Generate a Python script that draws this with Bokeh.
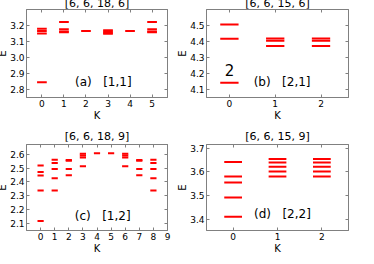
from bokeh.plotting import figure
from bokeh.layouts import column, row
from bokeh.models import (FixedTicker, LinearAxis, Label, Range1d,
                          NumeralTickFormatter, Title)
from bokeh.embed import file_html
from bokeh.resources import INLINE

# ---------------- data ----------------
a_title = "[6, 6, 18, 6]"
a_K = [0, 0, 0, 0, 1, 1, 1, 1, 2, 3, 3, 3, 3, 4, 5, 5, 5, 5]
a_E = [2.845, 3.150, 3.165, 3.180,
       3.158, 3.163, 3.176, 3.222,
       3.166,
       3.148, 3.155, 3.163, 3.170,
       3.166,
       3.158, 3.163, 3.176, 3.222]
a_xticks = [0, 1, 2, 3, 4, 5]
a_yticks = [2.8, 2.9, 3.0, 3.1, 3.2]
a_note = "(a)\u00a0\u00a0 [1,1]"

b_title = "[6, 6, 15, 6]"
b_K = [0, 0, 0, 1, 1, 1, 2, 2, 2]
b_E = [4.142, 4.417, 4.506,
       4.372, 4.405, 4.418,
       4.372, 4.405, 4.418]
b_xticks = [0, 1, 2]
b_yticks = [4.1, 4.2, 4.3, 4.4, 4.5]
b_note = "(b)\u00a0\u00a0 [2,1]"
b_mark = "2"

c_title = "[6, 6, 18, 9]"
c_K = [0, 0, 0, 0, 0,
       1, 1, 1, 1, 1,
       2, 2, 2, 2,
       3, 3, 3, 3,
       4,
       5,
       6, 6, 6, 6,
       7, 7, 7, 7,
       8, 8, 8, 8, 8]
c_E = [2.118, 2.338, 2.447, 2.472, 2.518,
       2.338, 2.426, 2.494, 2.536, 2.560,
       2.449, 2.494, 2.552, 2.558,
       2.513, 2.576, 2.590, 2.603,
       2.607,
       2.607,
       2.513, 2.576, 2.590, 2.603,
       2.449, 2.494, 2.552, 2.558,
       2.338, 2.426, 2.494, 2.536, 2.560]
c_xticks = [0, 1, 2, 3, 4, 5, 6, 7, 8, 9]
c_yticks = [2.1, 2.2, 2.3, 2.4, 2.5, 2.6]
c_note = "(c)\u00a0\u00a0 [1,2]"

d_title = "[6, 6, 15, 9]"
d_K = [0, 0, 0, 0, 0,
       1, 1, 1, 1, 1,
       2, 2, 2, 2, 2]
d_E = [3.413, 3.493, 3.556, 3.581, 3.642,
       3.581, 3.602, 3.622, 3.640, 3.654,
       3.581, 3.602, 3.622, 3.640, 3.654]
d_xticks = [0, 1, 2]
d_yticks = [3.4, 3.5, 3.6, 3.7]
d_note = "(d)\u00a0\u00a0 [2,2]"

x_label = "K"
y_label = "E"

# ---------------- styling ----------------
FONT = "DejaVu Sans"
RED = "#ff0000"
FRAME = "#808080"


def style_axis(ax, labels=True, label_standoff=0):
    ax.major_tick_in = 3
    ax.major_tick_out = 0
    ax.minor_tick_line_color = None
    ax.axis_line_color = FRAME
    ax.major_tick_line_color = FRAME
    if labels:
        ax.major_label_text_font = FONT
        ax.major_label_text_font_size = "9px"
        ax.major_label_text_color = "black"
        ax.major_label_standoff = 2
        ax.axis_label_text_font = FONT
        ax.axis_label_text_font_size = "10px"
        ax.axis_label_text_font_style = "normal"
        ax.axis_label_text_color = "black"
        ax.axis_label_standoff = label_standoff
    else:
        ax.major_label_text_font_size = "0px"
        ax.major_label_text_color = None
        ax.major_label_standoff = 0


def spacer_axis(n, at):
    # invisible axis that only reserves n pixels at the outer edge
    return LinearAxis(ticker=FixedTicker(ticks=[at]), major_tick_out=n,
                      major_tick_in=0, axis_line_color=None,
                      major_tick_line_color=None, minor_tick_line_color=None,
                      major_label_text_font_size="0px",
                      major_label_text_color=None, major_label_standoff=0)


def panel(title, K, E, xr, yr, xticks, yticks, barw, width, height,
          pad_top, mright, tstand):
    p = figure(width=width, height=height, title=None,
               x_range=Range1d(*xr), y_range=Range1d(*yr),
               output_backend="svg", toolbar_location=None,
               min_border_left=0, min_border_right=mright,
               min_border_top=0, min_border_bottom=24,
               background_fill_color="white", border_fill_color="white")
    p.outline_line_color = FRAME
    p.xgrid.visible = False
    p.ygrid.visible = False

    p.xaxis.ticker = FixedTicker(ticks=xticks)
    p.yaxis.ticker = FixedTicker(ticks=yticks)
    p.xaxis.axis_label = x_label
    p.yaxis.axis_label = y_label
    style_axis(p.xaxis[0])
    style_axis(p.yaxis[0], label_standoff=-1)
    p.yaxis[0].formatter = NumeralTickFormatter(format="0.0")

    top = LinearAxis(ticker=FixedTicker(ticks=xticks))
    style_axis(top, labels=False)
    p.add_layout(top, "above")
    p.add_layout(Title(text=title, align="center", text_font=FONT,
                       text_font_size="11px", text_font_style="normal",
                       text_color="black", standoff=tstand), "above")
    p.add_layout(spacer_axis(pad_top, (xr[0] + xr[1]) / 2), "above")

    right = LinearAxis(ticker=FixedTicker(ticks=yticks))
    style_axis(right, labels=False)
    p.add_layout(right, "right")
    p.add_layout(spacer_axis(2, (yr[0] + yr[1]) / 2), "left")

    p.rect(x=K, y=E, width=barw, height=2, height_units="screen",
           fill_color=RED, line_color=None)
    return p


def note(p, text, x, y, size="12px", align="left"):
    p.add_layout(Label(x=x, y=y, text=text, text_font=FONT,
                       text_font_size=size, text_align=align,
                       text_baseline="middle", text_color="black"))


pa = panel(a_title, a_K, a_E, (-0.7, 5.7), (2.75, 3.3), a_xticks, a_yticks,
           0.44, 180, 131, 2, 5, 0)
note(pa, a_note, 1.5, 2.85)

pb = panel(b_title, b_K, b_E, (-0.5, 2.6), (4.05, 4.6), b_xticks, b_yticks,
           0.4, 194, 131, 2, 18, 0)
note(pb, b_note, 0.53, 4.149)
note(pb, b_mark, 0.0, 4.219, size="15px", align="center")

pc = panel(c_title, c_K, c_E, (-1, 9), (2.05, 2.67), c_xticks, c_yticks,
           0.44, 180, 133, 2, 5, 4)
note(pc, c_note, 2.42, 2.157)

pd = panel(d_title, d_K, d_E, (-0.6, 2.6), (3.355, 3.715), d_xticks, d_yticks,
           0.4, 194, 133, 2, 18, 4)
note(pd, d_note, 0.47, 3.422)

root = column(row(pa, pb), row(pc, pd), margin=(-8, -8, -8, -8))

open("out.html", "w").write(file_html(root, INLINE))
